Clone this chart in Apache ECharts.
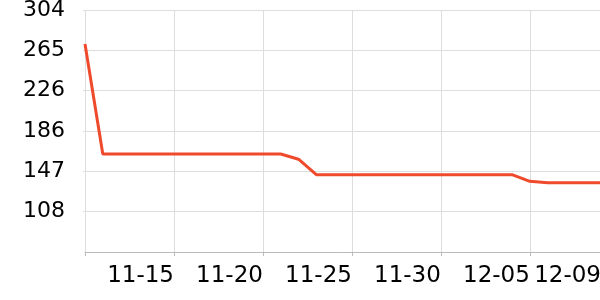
<!DOCTYPE html>
<html>
<head>
<meta charset="utf-8">
<script src="https://cdn.jsdelivr.net/npm/echarts@6/dist/echarts.min.js"></script>
<style>html,body{margin:0;padding:0;background:#fff;overflow:hidden}#c{width:600px;height:300px}</style>
</head>
<body>
<div id="c"></div>
<script>
const categories = ['11-10','11-11','11-12','11-13','11-14','11-15','11-16','11-17','11-18','11-19',
  '11-20','11-21','11-22','11-23','11-24','11-25','11-26','11-27','11-28','11-29',
  '11-30','12-01','12-02','12-03','12-04','12-05','12-06','12-07','12-08','12-09'];
const values = [271,164,164,164,164,164,164,164,164,164,
  164,164,159,144,144,144,144,144,144,144,
  144,144,144,144,144,137.5,136,136,136,136];
const yMin = 68.8, yMax = 304, yStep = 39.2;

const last = categories.length - 1;
const labelShown = (i) => (i > 0 && i % 5 === 0) || i === last;
const tickShown = (i) => i % 5 === 0 || i === last;

const chart = echarts.init(document.getElementById('c'), null, {renderer: 'canvas', width: 600, height: 300});
chart.setOption({
  animation: false,
  grid: {left: 85, right: -1, top: 10, bottom: 48, containLabel: false, outerBoundsMode: 'none'},
  xAxis: {
    type: 'category',
    data: categories,
    boundaryGap: false,
    axisLine: {show: true, lineStyle: {color: '#bbbbbb', width: 1}},
    axisTick: {show: true, interval: tickShown, length: 4, lineStyle: {color: '#bbbbbb'}},
    splitLine: {show: true, interval: tickShown, lineStyle: {color: '#dddddd', width: 1}},
    axisLabel: {
      interval: labelShown, align: 'right', margin: 13,
      fontFamily: 'DejaVu Sans', fontSize: 23, color: '#000'
    }
  },
  yAxis: {
    type: 'value',
    min: yMin, max: yMax, interval: yStep,
    axisLine: {show: false},
    axisTick: {show: true, length: 2, lineStyle: {color: '#dddddd'}},
    splitLine: {show: true, lineStyle: {color: '#dddddd', width: 1}},
    axisLabel: {
      showMinLabel: false, margin: 20,
      fontFamily: 'DejaVu Sans', fontSize: 22, color: '#000',
      formatter: (v) => String(Math.round(v))
    }
  },
  series: [{
    type: 'line',
    data: values,
    symbol: 'none',
    lineStyle: {color: '#ef4a2b', width: 3},
    itemStyle: {color: '#ef4a2b'}
  }]
});
</script>
</body>
</html>
